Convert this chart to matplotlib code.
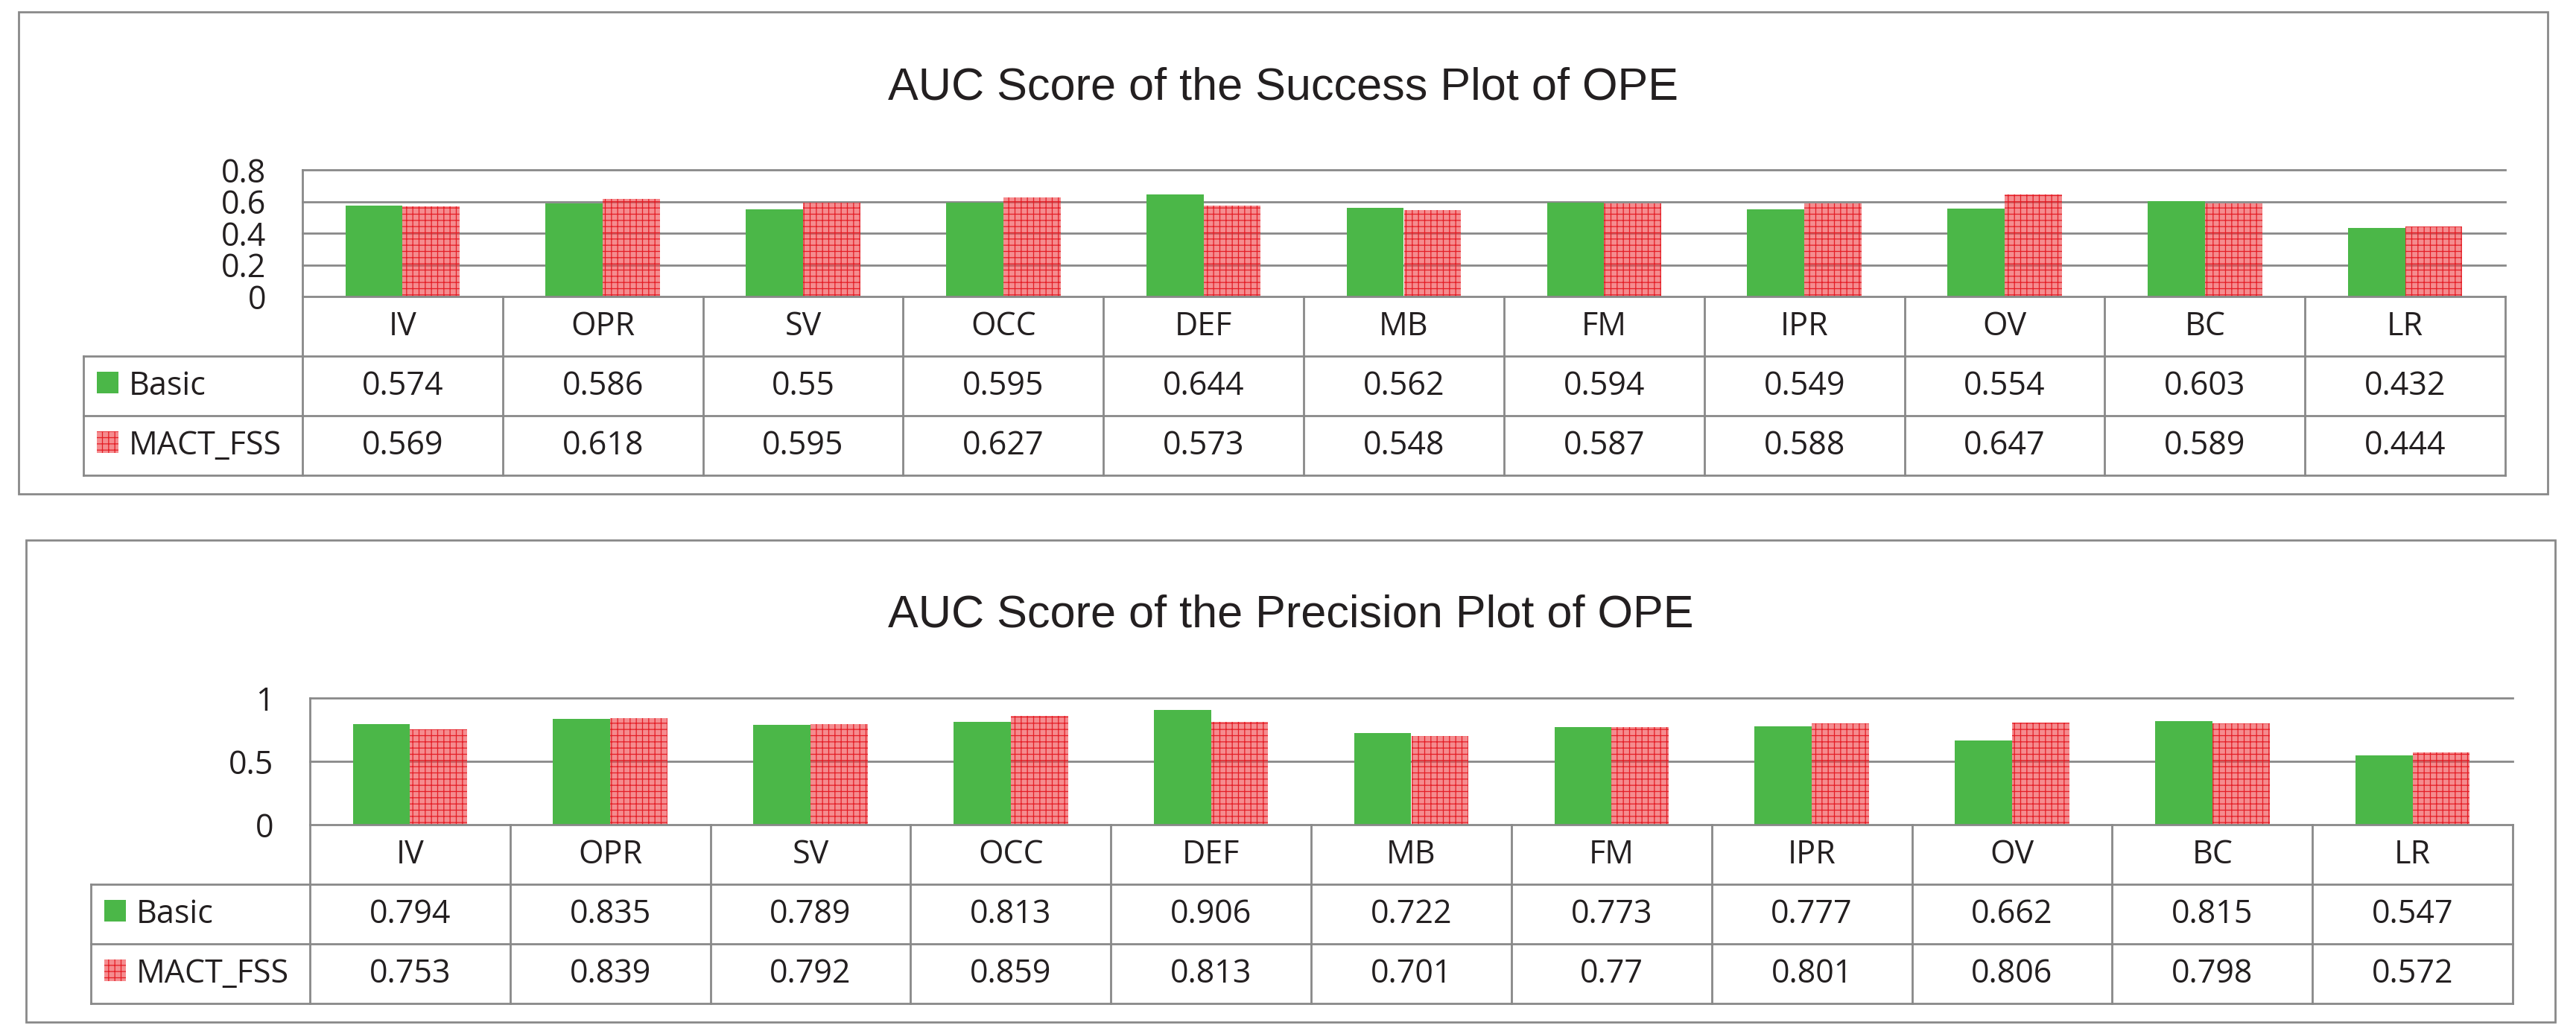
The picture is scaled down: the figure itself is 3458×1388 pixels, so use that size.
import matplotlib
matplotlib.use('Agg')
import matplotlib.pyplot as plt
from matplotlib.patches import Rectangle
from matplotlib.lines import Line2D
from matplotlib.transforms import blended_transform_factory
import numpy as np

# ---------------- data ----------------
categories = ['IV', 'OPR', 'SV', 'OCC', 'DEF', 'MB', 'FM', 'IPR', 'OV', 'BC', 'LR']
series_names = ['Basic', 'MACT_FSS']

success_basic = [0.574, 0.586, 0.55, 0.595, 0.644, 0.562, 0.594, 0.549, 0.554, 0.603, 0.432]
success_mact = [0.569, 0.618, 0.595, 0.627, 0.573, 0.548, 0.587, 0.588, 0.647, 0.589, 0.444]

precision_basic = [0.794, 0.835, 0.789, 0.813, 0.906, 0.722, 0.773, 0.777, 0.662, 0.815, 0.547]
precision_mact = [0.753, 0.839, 0.792, 0.859, 0.813, 0.701, 0.77, 0.801, 0.806, 0.798, 0.572]

success_ticks = [0, 0.2, 0.4, 0.6, 0.8]
success_ticklabels = ['0', '0.2', '0.4', '0.6', '0.8']
precision_ticks = [0, 0.5, 1]
precision_ticklabels = ['0', '0.5', '1']

titles = ['AUC Score of the Success Plot of OPE',
          'AUC Score of the Precision Plot of OPE']

# ---------------- style ----------------
W, H = 3458, 1388
GRAY = '#898989'
TXT = '#231F20'
GREEN = '#4BB748'
RED_FACE = (0.94, 0.27, 0.29, 0.62)
RED_HATCH = '#E41E26'
LW = 2.0
TFONT = ['Open Sans', 'DejaVu Sans']
TSIZE = 31

plt.rcParams['hatch.linewidth'] = 0.9

fig = plt.figure(figsize=(W / 100, H / 100), dpi=100)
fig.patch.set_facecolor('white')


def fx(px):
    return px / W


def fy(py):
    return 1 - py / H


def fig_line(xs, ys, transform):
    fig.add_artist(Line2D(xs, ys, transform=transform, color=GRAY, lw=LW,
                          solid_capstyle='projecting', zorder=5))


def panel(dx, dy, title, basic, mact, ticks, ticklabels):
    box_l, box_t, box_r, box_b = 25 + dx, 16 + dy, 3420 + dx, 663 + dy
    pl, pt, pr, pb = 406 + dx, 228 + dy, 3363 + dx, 398 + dy
    tab_l = 112 + dx
    row_b = [478 + dy, 558 + dy, 638 + dy]

    # outer frame
    fig.add_artist(Rectangle((fx(box_l), fy(box_b)), fx(box_r) - fx(box_l),
                             fy(box_t) - fy(box_b), transform=fig.transFigure,
                             fill=False, edgecolor=GRAY, lw=LW))
    # title
    fig.text(fx((box_l + box_r) / 2), fy(133 + dy), title, ha='center',
             va='baseline', fontsize=44, color=TXT,
             family=['Liberation Sans', 'DejaVu Sans'])

    ax = fig.add_axes([fx(pl), fy(pb), fx(pr) - fx(pl), fy(pt) - fy(pb)])
    n = len(categories)
    x = np.arange(n)
    w = 1 / 3.5
    ax.bar(x - w / 2, basic, w, color=GREEN, linewidth=0, zorder=3)
    ax.bar(x + w / 2, mact, w, facecolor=RED_FACE, edgecolor=RED_HATCH,
           linewidth=0, hatch='++', zorder=3)
    ax.set_xlim(-0.5, n - 0.5)
    ax.set_ylim(ticks[0], ticks[-1])
    ax.set_yticks(ticks, ticklabels)
    ax.set_xticks([])
    for t in ticks[1:]:
        ax.axhline(t, color=GRAY, lw=LW, zorder=1, clip_on=False)
    for s in ['top', 'right', 'bottom']:
        ax.spines[s].set_visible(False)
    ax.spines['left'].set_color(GRAY)
    ax.spines['left'].set_linewidth(LW)
    ax.tick_params(axis='y', length=0, pad=35, labelsize=TSIZE, labelcolor=TXT)
    for lab in ax.get_yticklabels():
        lab.set_family(TFONT)

    tr = blended_transform_factory(ax.transData, fig.transFigure)
    # table grid
    for i in range(n + 1):
        fig_line([i - 0.5, i - 0.5], [fy(pb), fy(row_b[-1])], tr)
    fig_line([-0.5, n - 0.5], [fy(pb), fy(pb)], tr)
    for rb in row_b:
        fig_line([fx(tab_l), fx(pr)], [fy(rb), fy(rb)], fig.transFigure)
    fig_line([fx(tab_l), fx(tab_l)], [fy(row_b[0]), fy(row_b[-1])], fig.transFigure)

    # category row
    for i, c in enumerate(categories):
        fig.text(i, fy(row_b[0] - 28), c, ha='center', va='baseline',
                 fontsize=TSIZE, color=TXT, family=TFONT, transform=tr)
    # value rows + legend keys
    for r, (vals, name) in enumerate(zip([basic, mact], series_names)):
        base = row_b[r + 1] - 28
        for i, v in enumerate(vals):
            fig.text(i, fy(base), f'{v:g}', ha='center', va='baseline',
                     fontsize=TSIZE, color=TXT, family=TFONT, transform=tr)
        sq_top = row_b[r + 1] - 59
        if r == 0:
            rect = Rectangle((fx(tab_l + 18), fy(sq_top + 29)), fx(29), 29 / H,
                             transform=fig.transFigure, facecolor=GREEN, lw=0)
        else:
            rect = Rectangle((fx(tab_l + 18), fy(sq_top + 29)), fx(29), 29 / H,
                             transform=fig.transFigure, facecolor=RED_FACE,
                             edgecolor=RED_HATCH, lw=0, hatch='++')
        fig.add_artist(rect)
        fig.text(fx(tab_l + 61), fy(base), name, ha='left', va='baseline',
                 fontsize=TSIZE, color=TXT, family=TFONT)


panel(0, 0, titles[0], success_basic, success_mact, success_ticks, success_ticklabels)
panel(10, 709, titles[1], precision_basic, precision_mact, precision_ticks, precision_ticklabels)

fig.savefig('out.png', dpi=100, facecolor='white')
